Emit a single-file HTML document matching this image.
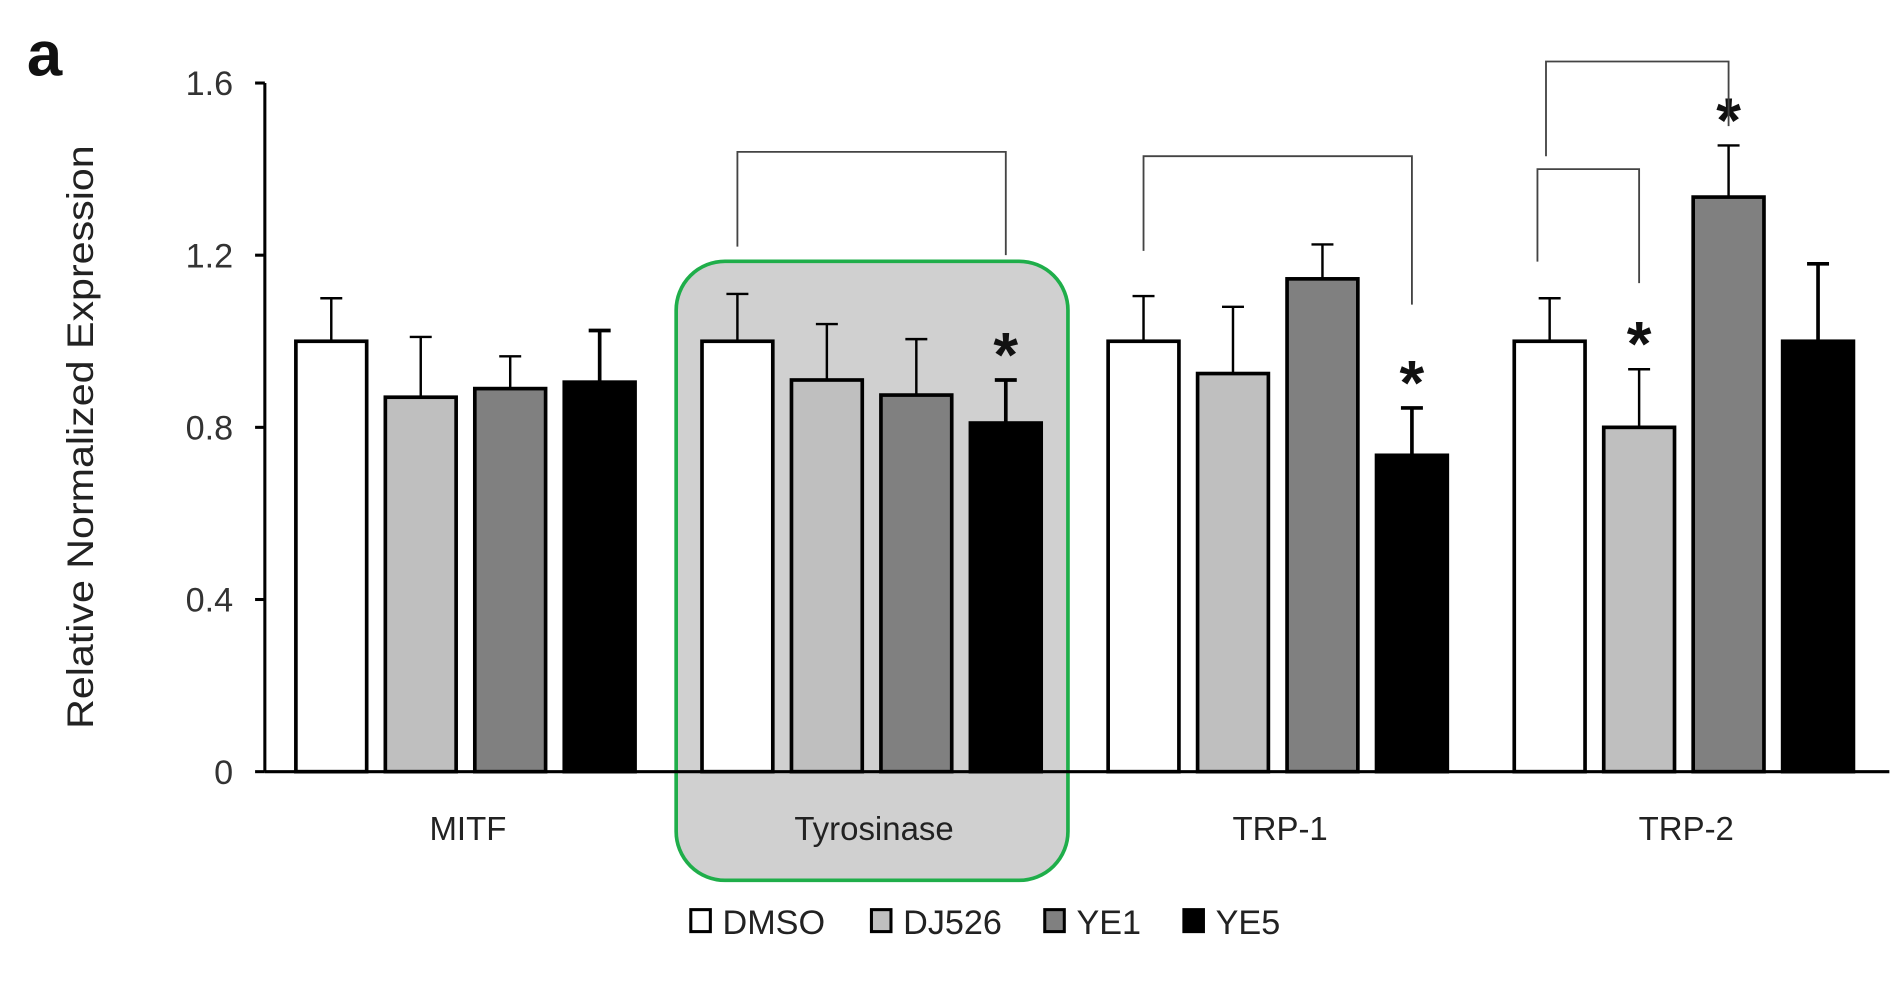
<!DOCTYPE html>
<html><head><meta charset="utf-8"><style>
html,body{margin:0;padding:0;background:#fff;}
svg{display:block;font-family:"Liberation Sans",sans-serif;}
</style></head><body>
<svg id="chart" width="1904" height="989" viewBox="0 0 1560 810" preserveAspectRatio="none" xmlns="http://www.w3.org/2000/svg">
<text x="22" y="62" font-size="52" font-weight="bold" fill="#111">a</text>
<rect x="554" y="214" width="321" height="507" rx="40" ry="40" fill="#d0d0d0" stroke="#1fae4a" stroke-width="3"/>
<g id="bars"></g>
<g id="axes"></g>
<text transform="translate(76,358) rotate(-90)" text-anchor="middle" font-size="30" textLength="478" lengthAdjust="spacingAndGlyphs" fill="#222">Relative Normalized Expression</text>
<g id="legend"></g>
</svg>
<script>
const categories = ["MITF","Tyrosinase","TRP-1","TRP-2"];
const seriesNames = ["DMSO","DJ526","YE1","YE5"];
const seriesColors = ["#ffffff","#bfbfbf","#808080","#000000"];
const dmso  = [1.0, 1.0, 1.0, 1.0];
const dj526 = [0.87, 0.91, 0.925, 0.80];
const ye1   = [0.89, 0.875, 1.145, 1.335];
const ye5   = [0.905, 0.81, 0.735, 1.0];
const errDmso  = [0.10, 0.11, 0.105, 0.10];
const errDj526 = [0.14, 0.13, 0.155, 0.135];
const errYe1   = [0.075, 0.13, 0.08, 0.12];
const errYe5   = [0.12, 0.10, 0.11, 0.18];
const yTicks = [0, 0.4, 0.8, 1.2, 1.6];
const yTickLabels = ["0","0.4","0.8","1.2","1.6"];
const stars = [[1,3],[2,3],[3,1],[3,2]];
const brackets = [[1,0,3,1.44,1.22,1.20],[2,0,3,1.43,1.21,1.085],[3,0,2,1.65,1.43,1.50],[3,0,1,1.40,1.185,1.135]];

const NS="http://www.w3.org/2000/svg";
const svg=document.getElementById('chart');
const X0=217, X1=1548, Y0=632, Y16=68;
const y=v=>Y0-(v/1.6)*(Y0-Y16);
const catW=(X1-X0)/categories.length;
const barW=58, pitch=73.3;
const xc=(c,s)=>X0+catW*(c+0.5)+(s-1.5)*pitch-2;
function mk(tag,attrs,parent){const e=document.createElementNS(NS,tag);for(const k in attrs)e.setAttribute(k,attrs[k]);(parent||svg).appendChild(e);return e;}
const bars=document.getElementById('bars'), axes=document.getElementById('axes'), legend=document.getElementById('legend');
const vals=[dmso,dj526,ye1,ye5], errs=[errDmso,errDj526,errYe1,errYe5];
categories.forEach((cat,c)=>{
  vals.forEach((arr,s)=>{
    const v=arr[c], cx=xc(c,s);
    const r=mk('rect',{x:cx-barW/2,y:y(v),width:barW,height:Y0-y(v),fill:seriesColors[s],stroke:'#000','stroke-width':3},bars);
    
    
    const et=y(v+errs[s][c]);
    const l=mk('path',{d:`M${cx} ${y(v)}V${et}M${cx-9} ${et}H${cx+9}`,stroke:'#000','stroke-width':s===3?3:2,fill:'none'},bars);
    
    
  });
  const t=mk('text',{x:X0+catW*(c+0.5),y:688,'text-anchor':'middle','font-size':27,fill:'#222'},axes);
  t.textContent=cat;
  
  
});
stars.forEach(([c,s])=>{
  const v=vals[s][c]+errs[s][c];
  const t=mk('text',{x:xc(c,s),y:y(v)-3,'text-anchor':'middle','font-size':52,'font-weight':'bold',fill:'#111'},bars);
  t.textContent='*';
  
  
});
brackets.forEach(([c,a,b,top,lb,rb])=>{
  let xa=xc(c,a), xb=xc(c,b);
  if(c===3&&b===1){xa-=10;}
  if(c===3&&b===2){xa-=3;}
  const p=mk('path',{d:`M${xa} ${y(lb)}V${y(top)}H${xb}V${y(rb)}`,stroke:'#444','stroke-width':1.5,fill:'none'},bars);
  
  
});
const ax=mk('path',{d:`M${X0} ${Y16}V${Y0}M${X0} ${Y0}H${X1}`,stroke:'#000','stroke-width':2.5,fill:'none'},axes);


yTicks.forEach((v,i)=>{
  const tk=mk('path',{d:`M${X0-8} ${y(v)}H${X0}`,stroke:'#000','stroke-width':2.5},axes);
  
  
  const t=mk('text',{x:X0-26,y:y(v)+10,'text-anchor':'end','font-size':28,fill:'#333'},axes);
  t.textContent=yTickLabels[i];
  
  
});
const lx=[565,713,855,969];
seriesNames.forEach((n,s)=>{
  const g=mk('g',{},legend);
  
  
  mk('rect',{x:lx[s]+1,y:745,width:16,height:18,fill:seriesColors[s],stroke:'#000','stroke-width':2.5},g);
  const t=mk('text',{x:lx[s]+27,y:765,'font-size':28,fill:'#222'},g);
  t.textContent=n;
});
</script>
</body></html>
